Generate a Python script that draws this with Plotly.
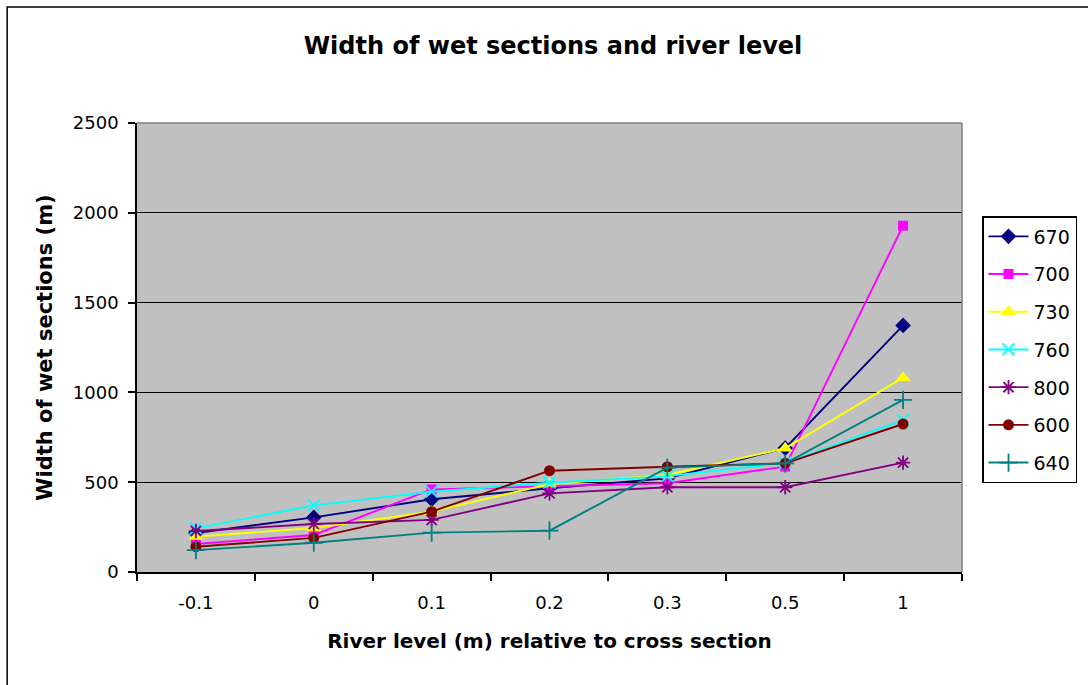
import plotly.graph_objects as go

categories = ["-0.1", "0", "0.1", "0.2", "0.3", "0.5", "1"]
series_names = ["670", "700", "730", "760", "800", "600", "640"]
s670 = [217, 304, 405, 466, 521, 690, 1373]
s700 = [156, 206, 460, 479, 494, 587, 1928]
s730 = [197, 245, 336, 490, 540, 689, 1082]
s760 = [243, 371, 447, 497, 534, 608, 846]
s800 = [228, 267, 290, 438, 472, 472, 609]
s600 = [141, 190, 336, 564, 586, 605, 824]
s640 = [122, 163, 219, 230, 581, 605, 958]
y_ticks = [0, 500, 1000, 1500, 2000, 2500]

values = [s670, s700, s730, s760, s800, s600, s640]
colors = ["#000080", "#FF00FF", "#FFFF00", "#00FFFF", "#800080", "#800000", "#008080"]
symbols = ["diamond", "square", "triangle-up", "x-thin", "asterisk", "circle", "cross-thin"]
sizes = [12, 10, 13, 12, 12, 11, 13]

FONT = "DejaVu Sans, Liberation Sans, Arial, sans-serif"

fig = go.Figure()
for name, vals, c, sym, sz in zip(series_names, values, colors, symbols, sizes):
    thin = sym.endswith("thin") or sym == "asterisk"
    fig.add_trace(go.Scatter(
        x=categories, y=vals, name=name, mode="lines+markers",
        line=dict(color=c, width=1.9),
        marker=dict(symbol=sym, size=sz, color=c,
                    line=dict(color=c, width=1.8 if thin else 0)),
        legendgroup=name,
    ))

L, R, T, B = 137, 963, 123, 572
W, H = 1088, 685
pw, ph = R - L, B - T

def px(x):
    return (x - L) / pw

def py(y):
    return (B - y) / ph

fig.update_layout(
    width=W, height=H,
    margin=dict(l=L, r=W - R, t=T, b=H - B, pad=0),
    paper_bgcolor="white", plot_bgcolor="#C0C0C0",
    font=dict(family=FONT, color="black", size=18),
    title=dict(text="<b>Width of wet sections and river level</b>", x=553 / W, xanchor="center",
               y=1 - 46 / H, yanchor="middle", font=dict(size=24)),
    showlegend=True,
    legend=dict(x=px(982), y=py(216), xanchor="left", yanchor="top",
                bordercolor="black", borderwidth=1.5, bgcolor="white",
                font=dict(size=19), tracegroupgap=10, traceorder="grouped", itemwidth=40),
    shapes=[
        dict(type="rect", xref="paper", yref="paper",
             x0=px(7), x1=px(1100), y0=py(700), y1=py(7),
             line=dict(color="black", width=1.5), fillcolor="rgba(0,0,0,0)", layer="below"),
        dict(type="line", xref="paper", yref="paper", x0=1, x1=1, y0=0, y1=1,
             line=dict(color="#808080", width=1.5)),
        dict(type="line", xref="paper", yref="paper", x0=0, x1=1, y0=1, y1=1,
             line=dict(color="#808080", width=1.5)),
    ],
)
fig.update_xaxes(
    type="category", tickson="boundaries", ticks="outside", ticklen=7, tickcolor="black",
    tickwidth=1.5, showline=True, linecolor="black", linewidth=1.5, showgrid=False,
    title=dict(text="<b>River level (m) relative to cross section</b>", font=dict(size=20), standoff=22),
    tickfont=dict(size=18), range=[-0.5, 6.5], ticklabelstandoff=14,
)
fig.update_yaxes(
    range=[0, 2500], tickvals=y_ticks, ticks="outside", ticklen=7, tickcolor="black", tickwidth=1.5,
    showline=True, linecolor="black", linewidth=1.5, showgrid=True, gridcolor="black", gridwidth=1,
    zeroline=False, tickfont=dict(size=18), ticklabelstandoff=6,
    title=dict(text="<b>Width of wet sections (m)</b>", font=dict(size=21), standoff=14),
)
fig.write_html("out.html")
